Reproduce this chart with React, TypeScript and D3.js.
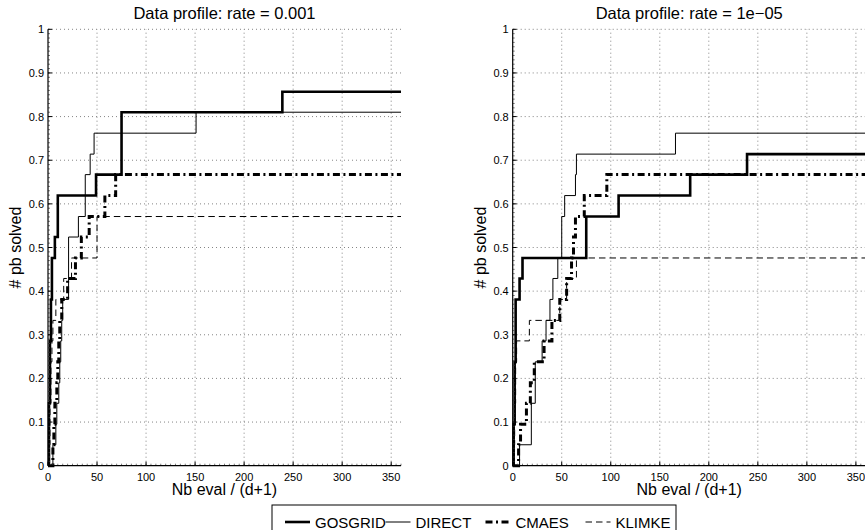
import React, { useEffect, useRef } from 'react';
import * as d3 from 'd3';

// tick values shared by both panels
const xTicks = [0, 50, 100, 150, 200, 250, 300, 350];
const yTicks = [0, 0.1, 0.2, 0.3, 0.4, 0.5, 0.6, 0.7, 0.8, 0.9, 1];
const yTickLabels = ['0', '0.1', '0.2', '0.3', '0.4', '0.5', '0.6', '0.7', '0.8', '0.9', '1'];
const titles = ['Data profile: rate = 0.001', 'Data profile: rate = 1e\u221205'];
const solvers = ['GOSGRID', 'DIRECT', 'CMAES', 'KLIMKE'];

// [nb eval / (d+1), fraction solved] — step points, rate = 0.001
const gosgridA = [[0, 0], [1, 0.143], [2, 0.286], [3, 0.381], [4, 0.476], [7, 0.524], [10, 0.619], [49, 0.667], [75, 0.81], [239, 0.857], [360, 0.857]];
const directA = [[0, 0], [5, 0.048], [8, 0.095], [9, 0.143], [11, 0.19], [12, 0.238], [13, 0.286], [14, 0.333], [15, 0.381], [21, 0.524], [31, 0.571], [38, 0.667], [43, 0.714], [47, 0.762], [151, 0.81], [360, 0.81]];
const cmaesA = [[0, 0], [5, 0.048], [6, 0.095], [7, 0.143], [9, 0.19], [10, 0.238], [11, 0.286], [12, 0.333], [14, 0.381], [20, 0.429], [28, 0.476], [34, 0.524], [42, 0.571], [58, 0.619], [69, 0.667], [360, 0.667]];
const klimkeA = [[0, 0], [1, 0.048], [2, 0.143], [3, 0.238], [4, 0.286], [5, 0.333], [8, 0.381], [16, 0.429], [24, 0.476], [50, 0.571], [360, 0.571]];

// rate = 1e-05
const gosgridB = [[0, 0], [1, 0.095], [2, 0.238], [3, 0.381], [7, 0.429], [10, 0.476], [75, 0.571], [108, 0.619], [181, 0.667], [239, 0.714], [360, 0.714]];
const directB = [[0, 0], [7, 0.048], [19, 0.143], [23, 0.238], [30, 0.286], [34, 0.333], [38, 0.381], [41, 0.429], [46, 0.476], [50, 0.571], [53, 0.619], [64, 0.667], [65, 0.714], [166, 0.762], [360, 0.762]];
const cmaesB = [[0, 0], [6, 0.048], [8, 0.095], [14, 0.143], [18, 0.19], [22, 0.238], [32, 0.286], [40, 0.333], [48, 0.381], [55, 0.429], [60, 0.476], [62, 0.524], [64, 0.571], [73, 0.619], [96, 0.667], [360, 0.667]];
const klimkeB = [[0, 0], [1, 0.048], [2, 0.143], [3, 0.238], [4, 0.286], [17, 0.333], [48, 0.381], [55, 0.429], [65, 0.476], [360, 0.476]];

const panelData = [
  [gosgridA, directA, cmaesA, klimkeA],
  [gosgridB, directB, cmaesB, klimkeB],
];

const styles = [
  { width: 2.6, dash: null },
  { width: 1, dash: null },
  { width: 3, dash: '7,3.5,2,3.5' },
  { width: 1, dash: '6.5,4' },
];

const FONT = '"Liberation Sans", Arial, Helvetica, sans-serif';

const App = () => {
  const ref = useRef<SVGSVGElement>(null);

  useEffect(() => {
    const svg = d3.select(ref.current);
    svg.selectAll('*').remove();

    const top = 29.3;
    const bottom = 465.7;
    const plotW = 353;
    const lefts = [48, 512.7];

    const y = d3.scaleLinear().domain([0, 1]).range([bottom, top]);

    lefts.forEach((left, p) => {
      const x = d3.scaleLinear().domain([0, 360]).range([left, left + plotW]);
      const g = svg.append('g');

      // dotted grid
      g.selectAll('.vgrid')
        .data(xTicks.filter(d => d > 0))
        .join('line')
        .attr('x1', d => x(d)).attr('x2', d => x(d))
        .attr('y1', y(0)).attr('y2', y(1))
        .attr('stroke', '#777').attr('stroke-width', 0.9)
        .attr('stroke-dasharray', '1,3');
      g.selectAll('.hgrid')
        .data(yTicks.filter(d => d > 0))
        .join('line')
        .attr('x1', x(0)).attr('x2', x(360))
        .attr('y1', d => y(d)).attr('y2', d => y(d))
        .attr('stroke', '#777').attr('stroke-width', 0.9)
        .attr('stroke-dasharray', '1,3');

      // step curves
      const line = d3.line<number[]>()
        .x(d => x(d[0]))
        .y(d => y(d[1]))
        .curve(d3.curveStepAfter);

      panelData[p].forEach((series, i) => {
        g.append('path')
          .datum(series)
          .attr('fill', 'none')
          .attr('stroke', '#000')
          .attr('stroke-width', styles[i].width)
          .attr('stroke-dasharray', styles[i].dash)
          .attr('d', line);
      });

      // minor ticks
      g.selectAll('.xminor')
        .data(d3.range(0, 361, 5))
        .join('line')
        .attr('x1', d => x(d)).attr('x2', d => x(d))
        .attr('y1', bottom).attr('y2', bottom - 2)
        .attr('stroke', '#444').attr('stroke-width', 0.7);
      g.selectAll('.yminor')
        .data(d3.range(0, 1.001, 0.01))
        .join('line')
        .attr('x1', left).attr('x2', left + 2)
        .attr('y1', d => y(d)).attr('y2', d => y(d))
        .attr('stroke', '#444').attr('stroke-width', 0.7);

      // major ticks
      g.selectAll('.xmajor')
        .data(xTicks)
        .join('line')
        .attr('x1', d => x(d)).attr('x2', d => x(d))
        .attr('y1', bottom).attr('y2', bottom - 4)
        .attr('stroke', '#000');
      g.selectAll('.ymajor')
        .data(yTicks)
        .join('line')
        .attr('x1', left).attr('x2', left + 4)
        .attr('y1', d => y(d)).attr('y2', d => y(d))
        .attr('stroke', '#000');

      // axis lines
      g.append('line')
        .attr('x1', left).attr('x2', left)
        .attr('y1', top).attr('y2', bottom)
        .attr('stroke', '#000').attr('stroke-width', 1.2);
      g.append('line')
        .attr('x1', left).attr('x2', left + plotW)
        .attr('y1', bottom).attr('y2', bottom)
        .attr('stroke', '#000').attr('stroke-width', 1.2);

      // tick labels
      g.selectAll('.xlab')
        .data(xTicks)
        .join('text')
        .attr('x', d => x(d))
        .attr('y', 480.5)
        .attr('text-anchor', 'middle')
        .attr('font-family', FONT)
        .attr('font-size', 11)
        .text(d => String(d));
      g.selectAll('.ylab')
        .data(yTicks)
        .join('text')
        .attr('x', left - 4)
        .attr('y', d => y(d) + 4)
        .attr('text-anchor', 'end')
        .attr('font-family', FONT)
        .attr('font-size', 11)
        .text((d, i) => yTickLabels[i]);

      // title + axis labels
      g.append('text')
        .attr('x', left + plotW / 2)
        .attr('y', 18.5)
        .attr('text-anchor', 'middle')
        .attr('font-family', FONT)
        .attr('font-size', 16.5)
        .text(titles[p]);
      g.append('text')
        .attr('x', left + plotW / 2)
        .attr('y', 495)
        .attr('text-anchor', 'middle')
        .attr('font-family', FONT)
        .attr('font-size', 16)
        .text('Nb eval / (d+1)');
      g.append('text')
        .attr('transform', `translate(${left - 27},${(top + bottom) / 2}) rotate(-90)`)
        .attr('text-anchor', 'middle')
        .attr('font-family', FONT)
        .attr('font-size', 16)
        .text('# pb solved');
    });

    // legend
    const lg = svg.append('g');
    lg.append('rect')
      .attr('x', 272).attr('y', 505)
      .attr('width', 404).attr('height', 40)
      .attr('fill', '#fff').attr('stroke', '#000').attr('stroke-width', 1);
    const itemX = [285, 385.5, 485.5, 585.5];
    solvers.forEach((name, i) => {
      lg.append('line')
        .attr('x1', itemX[i]).attr('x2', itemX[i] + 25)
        .attr('y1', 522).attr('y2', 522)
        .attr('stroke', '#000')
        .attr('stroke-width', styles[i].width)
        .attr('stroke-dasharray', styles[i].dash);
      lg.append('text')
        .attr('x', itemX[i] + 30)
        .attr('y', 527.5)
        .attr('font-family', FONT)
        .attr('font-size', 15)
        .text(name);
    });
  }, []);

  return (
    <div style={{ position: 'absolute', left: 0, top: 0 }}>
      <svg ref={ref} width={865} height={530} style={{ display: 'block', background: '#fff' }}></svg>
    </div>
  );
};

export default App;
